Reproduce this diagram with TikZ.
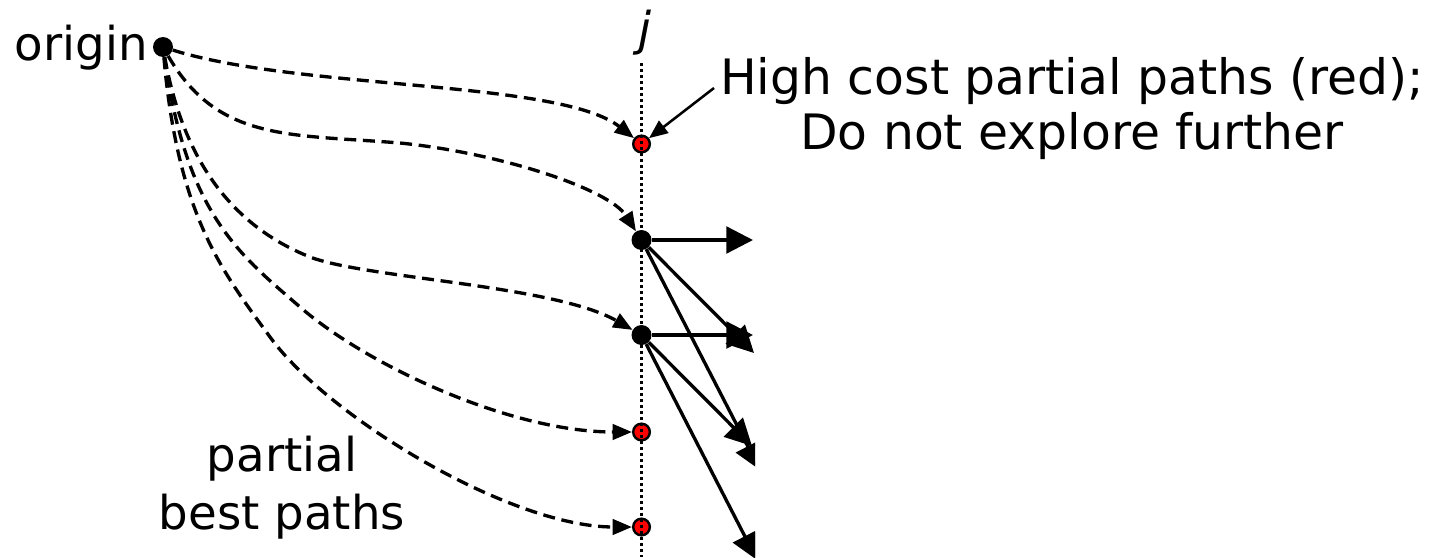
\documentclass[tikz,border=0pt]{standalone}
\usepackage{fontspec}
\setmainfont{DejaVu Sans}
\usetikzlibrary{arrows.meta}
\begin{document}
\begin{tikzpicture}[x=0.75pt,y=-0.75pt,
  bigdot/.style={circle,fill=black,inner sep=0pt,minimum size=15pt},
  reddot/.style={circle,fill=red,draw=black,line width=1.8pt,inner sep=0pt,minimum size=12.5pt},
  dashline/.style={line width=2.5pt,dash pattern=on 9pt off 5pt,-{Triangle[length=14.5pt,width=11.5pt]}},
  solidarrow/.style={line width=2.5pt,-{Triangle[length=20pt,width=20pt]}},
  pointer/.style={line width=1.9pt,-{Triangle[length=14pt,width=11.5pt]}},
  vline/.style={line width=2.3pt,dash pattern=on 2.3pt off 2.2pt},
  labeltext/.style={font=\fontsize{35pt}{42pt}\selectfont, inner sep=0pt}
]
\useasboundingbox (0,0) rectangle (1431,557);

% dots
\node[bigdot] (o) at (163,47) {};
\node[reddot] (r1) at (641.5,144) {};
\node[bigdot] (b1) at (641.5,240) {};
\node[bigdot] (b2) at (641.5,335) {};
\node[reddot] (r4) at (641.5,432) {};
\node[reddot] (r5) at (641.5,527) {};

% vertical dotted line
\coordinate (vtop) at (641.5,63);
\coordinate (vbot) at (641.5,557);
\draw[vline] (vtop) -- (vbot);

% texts
\node[labeltext,anchor=base east] (otext) at (148,60) {origin};
\node[labeltext,anchor=base] (jtext) at (645,45) {\itshape j};
\node[labeltext,anchor=north,align=center,font=\fontsize{36.6pt}{41.25pt}\selectfont] (hc) at (1072,57) {High cost partial paths (red);\\Do not explore further};
\node[labeltext,anchor=north,align=center,font=\fontsize{35pt}{43.5pt}\selectfont] (pb) at (282,436) {partial\\best paths};

% pointer from label to red dot
\coordinate (hcstart) at (714,88);
\draw[pointer] (hcstart) -- (r1);

% dashed partial paths
\coordinate (m2) at (400,143);
\coordinate (m3) at (310,257);
\coordinate (m4) at (300,307);
\coordinate (m5) at (270,337);
\draw[dashline] (o) .. controls (300,90) and (560,80) .. (r1);
\draw[dashline] (o) .. controls (218,142) and (290,134) .. (m2)
                    .. controls (500,153) and (609,189) .. (b1);
\draw[dashline] (o) .. controls (187.3,184.9) and (254,234.5) .. (m3)
                    .. controls (366,278.5) and (554,285) .. (b2);
\draw[dashline] (o) .. controls (186.7,215.3) and (239.6,254.5) .. (m4)
                    .. controls (368,366) and (511,432) .. (r4);
\draw[dashline] (o) .. controls (177.8,216.4) and (223,272.3) .. (m5)
                    .. controls (328.8,417.9) and (511,527) .. (r5);

% solid extensions
\coordinate (t1) at (753,240);
\coordinate (t2) at (754,353);
\coordinate (t3) at (760,470);
\coordinate (t4) at (752,446);
\coordinate (t5) at (757,560);
\coordinate (t6) at (753,335);
\begin{scope}
\clip (0,0) rectangle (755,557);
\draw[solidarrow] (b1) -- (t1);
\draw[solidarrow] (b1) -- (t2);
\draw[solidarrow] (b1) -- (t3);
\draw[solidarrow] (b2) -- (t6);
\draw[solidarrow] (b2) -- (t4);
\draw[solidarrow] (b2) -- (t5);
\end{scope}
\end{tikzpicture}
\end{document}
